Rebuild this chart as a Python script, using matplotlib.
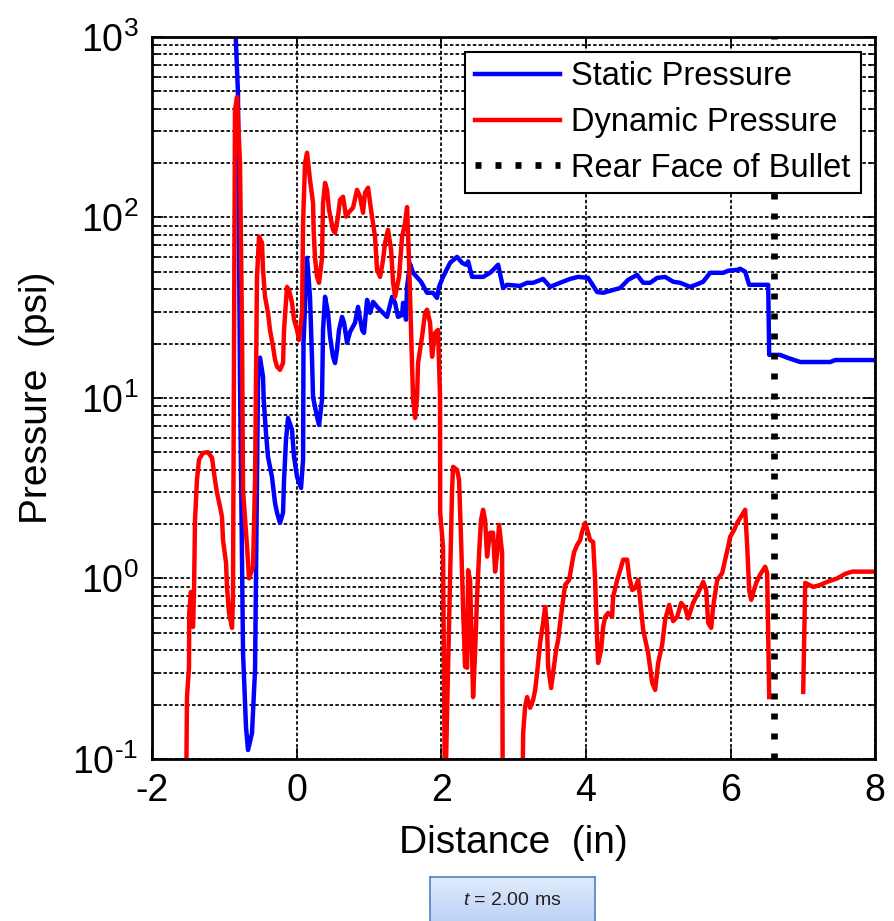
import numpy as np
import matplotlib
matplotlib.use("Agg")
import matplotlib.pyplot as plt
from matplotlib.ticker import LogLocator, NullFormatter, FuncFormatter
from matplotlib.colors import LinearSegmentedColormap


# static pressure along the barrel (in, psi)
static_x = [-0.86, -0.824, -0.811, -0.783, -0.741, -0.700, -0.672, -0.617, -0.575, -0.534,
            -0.506, -0.465, -0.455, -0.424, -0.396, -0.341, -0.299, -0.271, -0.230, -0.188,
            -0.174, -0.147, -0.119, -0.064, -0.036, 0.006, 0.061, 0.089, 0.095, 0.144,
            0.185, 0.213, 0.227, 0.282, 0.310, 0.351, 0.365, 0.393, 0.434, 0.462,
            0.503, 0.531, 0.559, 0.586, 0.628, 0.656, 0.697, 0.739, 0.808, 0.849,
            0.905, 0.932, 0.974, 1.015, 1.057, 1.126, 1.250, 1.320, 1.361, 1.402,
            1.458, 1.472, 1.513, 1.527, 1.568, 1.610, 1.720, 1.803, 1.886, 1.941,
            1.969, 2.024, 2.122, 2.218, 2.288, 2.343, 2.371, 2.426, 2.578, 2.675,
            2.786, 2.855, 2.910, 3.090, 3.187, 3.270, 3.408, 3.505, 3.643, 3.781,
            3.892, 4.030, 4.155, 4.238, 4.376, 4.473, 4.584, 4.708, 4.791, 4.888,
            4.985, 5.095, 5.206, 5.303, 5.441, 5.552, 5.621, 5.718, 5.898, 5.967,
            6.091, 6.133, 6.202, 6.257, 6.520, 6.534, 6.686, 6.783, 6.963, 7.378,
            7.447, 8.0]
static_p = [1500, 656, 490, 12.6, 0.386, 0.150, 0.112, 0.139, 0.311, 12.6,
            16.7, 13.1, 9.75, 6.4, 4.71, 3.65, 2.62, 2.31, 2.03, 2.31,
            3.51, 5.85, 7.74, 6.65, 4.71, 3.65, 3.17, 4.54, 20.2, 59.7,
            36.3, 16.3, 10.1, 7.85, 7.08, 9.75, 23.8, 36.3, 29.6, 21.8,
            16.9, 15.6, 18.5, 23.8, 28.1, 26.1, 20.2, 23.2, 26.1, 31.9,
            23.8, 22.9, 34.9, 29.6, 34.0, 31.5, 28.1, 36.3, 33.6, 28.1,
            28.8, 33.6, 27.1, 41.2, 55.2, 49.3, 44.0, 38.2, 38.2, 35.8,
            41.2, 46.8, 56.0, 60.4, 56.0, 54.6, 57.0, 46.8, 46.8, 49.3,
            54.6, 40.6, 42.3, 41.7, 43.4, 43.4, 45.6, 41.2, 43.4, 45.6,
            46.8, 46.2, 38.6, 38.2, 39.6, 40.6, 45.1, 48.0, 43.4, 43.4,
            46.2, 46.8, 44.0, 43.4, 41.2, 42.8, 44.0, 49.3, 49.3, 50.6,
            51.2, 51.9, 50.0, 42.3, 42.3, 17.3, 17.3, 16.7, 15.8, 15.8,
            16.2, 16.2]

# dynamic pressure (nan = no data)
dyn_x = [-1.53, -1.516, -1.488, -1.485, -1.461, -1.433, -1.419, -1.405, -1.378, -1.350,
         -1.295, -1.226, -1.170, -1.129, -1.101, -1.059, -1.032, -1.018, -0.976, -0.963,
         -0.935, -0.893, -0.880, -0.852, -0.824, -0.783, -0.755, -0.741, -0.686, -0.658,
         -0.603, -0.575, -0.548, -0.520, -0.479, -0.465, -0.437, -0.396, -0.368, -0.326,
         -0.299, -0.271, -0.230, -0.188, -0.174, -0.133, -0.105, -0.064, -0.036, 0.006,
         0.033, 0.075, 0.089, 0.116, 0.144, 0.185, 0.227, 0.235, 0.254, 0.282,
         0.310, 0.351, 0.365, 0.393, 0.420, 0.448, 0.503, 0.531, 0.572, 0.600,
         0.642, 0.683, 0.725, 0.780, 0.835, 0.877, 0.918, 0.946, 0.988, 1.029,
         1.084, 1.112, 1.154, 1.195, 1.223, 1.264, 1.306, 1.334, 1.361, 1.416,
         1.458, 1.499, 1.527, 1.555, 1.596, 1.610, 1.638, 1.665, 1.679, 1.734,
         1.776, 1.803, 1.845, 1.873, 1.914, 1.955, 1.983, 1.985, 2.024, 2.052,
         2.080, 2.122, 2.149, 2.163, 2.218, 2.246, 2.274, 2.301, 2.329, 2.357,
         2.371, 2.398, 2.440, 2.467, 2.495, 2.523, 2.550, 2.578, 2.606, 2.633,
         2.675, 2.716, 2.744, 2.772, 2.799, 2.841, 2.85, 3.0, 3.12, 3.132,
         3.159, 3.187, 3.228, 3.270, 3.298, 3.325, 3.339, 3.367, 3.408, 3.436,
         3.463, 3.477, 3.519, 3.546, 3.588, 3.616, 3.643, 3.685, 3.712, 3.768,
         3.809, 3.837, 3.878, 3.920, 3.947, 3.989, 4.030, 4.058, 4.100, 4.127,
         4.155, 4.169, 4.210, 4.238, 4.266, 4.307, 4.362, 4.376, 4.432, 4.473,
         4.515, 4.570, 4.598, 4.640, 4.681, 4.723, 4.791, 4.860, 4.916, 4.957,
         4.999, 5.054, 5.095, 5.151, 5.206, 5.261, 5.317, 5.372, 5.413, 5.482,
         5.552, 5.621, 5.663, 5.690, 5.732, 5.759, 5.815, 5.884, 5.925, 5.967,
         5.995, 6.050, 6.091, 6.133, 6.202, 6.230, 6.257, 6.285, 6.312, 6.354,
         6.409, 6.478, 6.506, 6.534, 6.77, 7.004, 7.032, 7.143, 7.240, 7.336,
         7.475, 7.585, 7.682, 8.0]
dyn_p = [0.05, 0.220, 0.324, 0.644, 0.842, 0.538, 0.83, 2.11, 3.51, 4.54,
         4.96, 5.0, 4.65, 3.51, 2.98, 2.49, 2.19, 1.63, 1.22, 0.897,
         0.644, 0.532, 0.791, 394, 465, 200, 23.8, 3.09, 1.50, 1.0,
         1.16, 3.51, 46.8, 78, 72.3, 51.2, 36.3, 29.6, 23.8, 19.2,
         16.3, 14.9, 14.3, 15.6, 23.8, 41.2, 39.6, 33.6, 27.1, 23.8,
         20.9, 29.6, 93.3, 200, 228, 161, 120, 85.3, 59.7, 46.8,
         43.4, 59.7, 120, 155, 142, 110, 85.3, 82, 101, 125,
         130, 101, 107, 113, 142, 130, 106, 137, 146, 110,
         78, 51.2, 46.8, 58.2, 72.3, 85.3, 66.1, 43.4, 36.3, 46.8,
         78, 93.3, 114, 56.0, 15.6, 9.75, 7.74, 10.1, 15.6, 21.8,
         29.6, 30.8, 26.1, 16.9, 22.9, 23.8, 10.1, 2.31, 1.50, 0.05,
         0.180, 0.98, 3.09, 4.15, 3.99, 3.51, 1.63, 0.695, 0.324, 0.32,
         1.11, 0.98, 0.220, 0.386, 0.791, 1.38, 2.11, 2.40, 2.11, 1.32,
         1.79, 1.79, 1.09, 1.38, 1.98, 1.38, 0.05, 0.03, 0.05, 0.139,
         0.194, 0.220, 0.192, 0.212, 0.241, 0.299, 0.340, 0.440, 0.567, 0.695,
         0.538, 0.324, 0.247, 0.299, 0.402, 0.456, 0.567, 0.761, 0.92, 0.98,
         1.22, 1.40, 1.53, 1.63, 1.81, 2.03, 1.79, 1.63, 1.59, 0.98,
         0.456, 0.340, 0.402, 0.538, 0.612, 0.644, 0.612, 0.791, 0.98, 1.11,
         1.27, 1.27, 1.02, 0.862, 0.884, 0.98, 0.519, 0.386, 0.264, 0.241,
         0.340, 0.429, 0.589, 0.713, 0.58, 0.612, 0.731, 0.687, 0.60, 0.731,
         0.83, 0.957, 0.862, 0.567, 0.532, 0.695, 0.98, 1.07, 1.27, 1.50,
         1.70, 1.86, 2.03, 2.16, 2.40, 1.50, 0.862, 0.761, 0.83, 0.944,
         1.05, 1.16, 1.07, 0.220, np.nan, 0.235, 0.944, 0.897, 0.92, 0.957,
         1.0, 1.06, 1.09, 1.09]

bullet_x = 6.6
x_ticks = [-2, 0, 2, 4, 6, 8]
time_label = "2.00 ms"

plt.rcParams['font.family'] = ['Liberation Sans', 'DejaVu Sans']
plt.rcParams['axes.unicode_minus'] = False
plt.rcParams['mathtext.fontset'] = 'custom'
plt.rcParams['mathtext.rm'] = 'Liberation Sans'
plt.rcParams['mathtext.it'] = 'Liberation Sans:italic'

fig = plt.figure(figsize=(8.94, 9.21), dpi=100)
ax = fig.add_axes([0.170, 0.176, 0.809, 0.784])

ax.plot(static_x, static_p, color=(0, 0, 1), lw=3.2, label='Static Pressure')
ax.plot(dyn_x, dyn_p, color=(1, 0, 0), lw=3.2, label='Dynamic Pressure')
ax.axvline(bullet_x, color='k', lw=4.8, linestyle=(0, (0.9, 2.1)),
           dash_capstyle='butt', label='Rear Face of Bullet')

ax.set_yscale('log')
ax.set_ylim(0.1, 1000)
ax.set_xlim(-2, 8)
ax.set_xticks(x_ticks)
ax.yaxis.set_minor_locator(LogLocator(base=10, subs=range(2, 10)))
ax.yaxis.set_minor_formatter(NullFormatter())
# MATLAB style labels: 10 with a small superscript, hyphen for minus
ax.yaxis.set_major_formatter(FuncFormatter(
    lambda v, pos: r'$\mathregular{10^{\text{%d}}}$' % round(np.log10(v))))

grid_style = dict(color='k', linestyle=(0, (2, 1.3)), linewidth=1.25)
ax.grid(True, which='major', axis='both', **grid_style)
ax.grid(True, which='minor', axis='y', **grid_style)

ax.tick_params(which='both', direction='in', top=True, right=True, width=1.2)
ax.tick_params(which='major', length=8, labelsize=27, pad=10)
ax.tick_params(which='minor', length=4)
for sp in ax.spines.values():
    sp.set_linewidth(2)

ax.set_xlabel('Distance  (in)', fontsize=28, labelpad=12)
ax.set_ylabel('Pressure  (psi)', fontsize=28, labelpad=12)

leg = ax.legend(loc='upper right', fontsize=23.5, handlelength=2.6, handletextpad=0.35,
                labelspacing=0.45, borderpad=0.3, borderaxespad=0.45,
                fancybox=False, edgecolor='k', framealpha=1)
leg.get_frame().set_linewidth(1.5)

# time stamp box under the plot
box = fig.add_axes([430 / 894, -0.01, 165 / 894, 0.0578])
grad = LinearSegmentedColormap.from_list('box', ['#e2ecfc', '#b5cdf4'])
box.imshow(np.linspace(0, 1, 100).reshape(-1, 1), aspect='auto', cmap=grad,
           extent=[0, 1, 0, 1])
box.set_xticks([])
box.set_yticks([])
for sp in box.spines.values():
    sp.set_color('#4f81bd')
    sp.set_linewidth(1.2)
fig.text(0.5727, 0.0228, r'$t$ = ' + time_label, ha='center', va='center',
         fontsize=14, color='#222222')

fig.savefig('out.png', dpi=100)
